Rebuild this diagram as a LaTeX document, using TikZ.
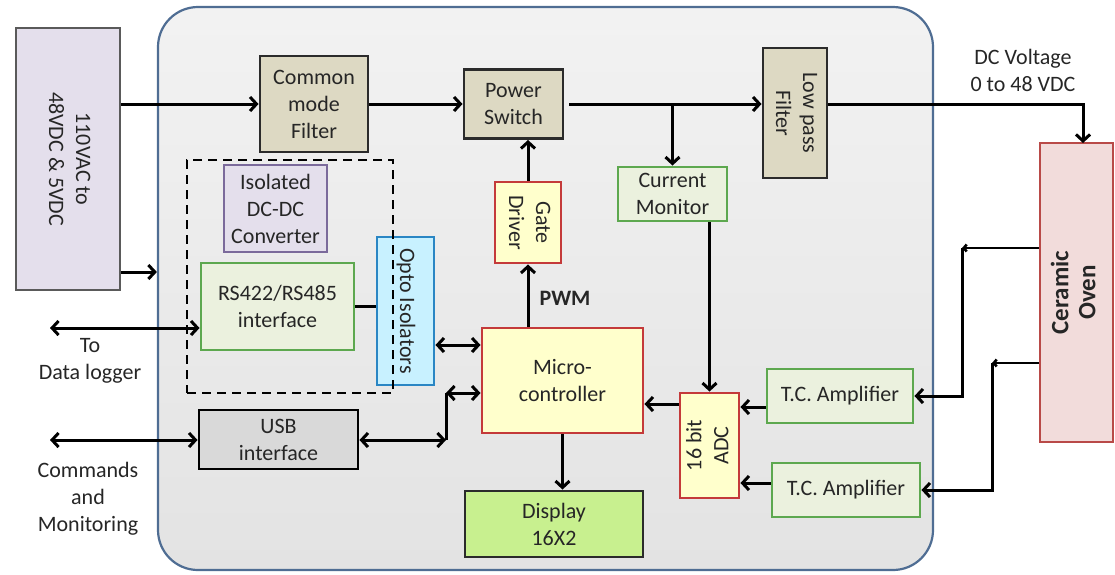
\documentclass[tikz,border=0pt]{standalone}
\usepackage{fontspec}
\setmainfont{Carlito}
\usetikzlibrary{arrows.meta,calc}
\definecolor{txt}{HTML}{262626}
\definecolor{panelb}{HTML}{4F6D93}
\definecolor{lav}{HTML}{E4DFEC}
\definecolor{srcb}{HTML}{5A5A5A}
\definecolor{dcb}{HTML}{7B6A9B}
\definecolor{tan}{HTML}{DDD9C3}
\definecolor{tanb}{HTML}{2B2B2B}
\definecolor{grf}{HTML}{EBF1DE}
\definecolor{grb}{HTML}{5DA84F}
\definecolor{yel}{HTML}{FFFFCC}
\definecolor{redb}{HTML}{C43A3A}
\definecolor{cyf}{HTML}{C8F1FF}
\definecolor{cyb}{HTML}{2A86C4}
\definecolor{usbf}{HTML}{D9D9D9}
\definecolor{dispf}{HTML}{C8F08F}
\definecolor{ovf}{HTML}{F2DCDB}
\definecolor{ovb}{HTML}{B94A48}
\newcommand{\rtext}[2]{\rotatebox{#1}{\begin{tabular}{@{}c@{}}#2\end{tabular}}}
\begin{document}
\begin{tikzpicture}[x=1pt,y=-1pt,
  every node/.style={font=\fontsize{22}{27}\selectfont, text=txt},
  box/.style={draw, line width=2.9pt, inner sep=0pt, align=center},
  tanbox/.style={box, fill=tan, draw=tanb},
  grbox/.style={box, fill=grf, draw=grb},
  ylbox/.style={box, fill=yel, draw=redb},
  conn/.style={line width=3pt, draw=black},
  small/.style={line width=2.6pt, draw=black, -{Straight Barb[length=3pt,width=7pt]}},
  >={Straight Barb[length=6.5pt,width=14pt]},
  lbl/.style={align=center, inner sep=0pt}
]
\useasboundingbox (0,0) rectangle (1115,574);
% main panel
\node[draw=panelb, line width=2.2pt, rounded corners=40pt, top color=black!5, bottom color=black!11,
  minimum width=775, minimum height=563, inner sep=0pt] (panel) at (545.5,288.5) {};

% blocks
\node[box, fill=lav, draw=srcb, minimum width=104, minimum height=262] (src) at (68,159)
  {\rtext{-90}{110VAC to\\48VDC \& 5VDC}};
\node[tanbox, minimum width=108, minimum height=96] (cmf) at (314,104) {Common\\mode\\Filter};
\node[tanbox, minimum width=99, minimum height=69] (psw) at (513.5,104) {Power\\Switch};
\node[tanbox, minimum width=64, minimum height=130] (lpf) at (795,113) {\rtext{-90}{Low pass\\Filter}};
\node[box, fill=ovf, draw=ovb, minimum width=73, minimum height=299] (oven) at (1076.5,292.5)
  {\rtext{90}{\fontsize{25}{28}\selectfont\bfseries Ceramic\\\fontsize{25}{28}\selectfont\bfseries Oven}};
\node[grbox, minimum width=109, minimum height=54] (cmon) at (672.5,194) {Current\\Monitor};
\node[ylbox, minimum width=66, minimum height=81] (gate) at (528,222.5) {\rtext{-90}{Gate\\Driver}};
\node[ylbox, minimum width=161, minimum height=105] (micro) at (562.5,380.5) {Micro-\\controller};
\node[box, fill=dispf, draw=tanb, minimum width=178, minimum height=66] (disp) at (554,524) {Display\\16X2};
\node[ylbox, minimum width=59, minimum height=105] (adc) at (709.5,445.5) {\rtext{90}{16 bit\\ADC}};
\node[grbox, minimum width=146, minimum height=54] (tc1) at (840,396) {T.C. Amplifier};
\node[grbox, minimum width=148, minimum height=54] (tc2) at (846,490) {T.C. Amplifier};
\node[box, fill=cyf, draw=cyb, minimum width=57, minimum height=148] (opto) at (405.5,311) {\rtext{-90}{Opto Isolators}};
\node[box, fill=lav, draw=dcb, minimum width=103, minimum height=87] (dcdc) at (275.5,208.5) {Isolated\\DC-DC\\Converter};
\node[grbox, minimum width=153, minimum height=87] (rs) at (277.5,306.5) {RS422/RS485\\interface};
\node[box, fill=usbf, draw=black, minimum width=159, minimum height=59] (usb) at (278.5,439.5) {USB\\interface};
\node[draw=black, line width=2.8pt, dash pattern=on 9pt off 6pt, minimum width=206, minimum height=233, inner sep=0pt] (iso) at (290,276.5) {};

% coordinates
\coordinate (ovin) at (1083,143);
\coordinate (k1) at (962,248);
\coordinate (k2) at (992,363);
\coordinate (dl) at (50,328);
\coordinate (cm) at (50,440);
\coordinate (j1) at (446,440);
\coordinate (j2) at (446,393);

% connectors
\draw[conn,->] (src.east |- cmf.west) -- (cmf.west);
\draw[conn,->] (src.east |- 0,272) -- (panel.west |- 0,272);
\draw[conn,->] (cmf.east) -- (psw.west);
\draw[conn,->, shorten <=5pt] (psw.east) -- (lpf.west |- psw.east);
\draw[conn,->] (psw.east -| cmon.north) -- (cmon.north);
\draw[conn,->] (lpf.east |- psw.east) -| (ovin);
\draw[conn,->] (gate.north) -- (gate.north |- psw.south);
\draw[conn,->] (micro.north -| gate.south) -- (gate.south);
\draw[conn,->] (adc.north |- cmon.south) -- (adc.north);
\draw[conn,->] (adc.west |- 0,404) -- (micro.east |- 0,404);
\draw[conn,->] (tc1.west |- 0,407) -- (adc.east |- 0,407);
\draw[conn,->] (tc2.west |- 0,483) -- (adc.east |- 0,483);
\draw[small] (oven.west |- k1) -- (k1);
\draw[conn,->] (k1) |- (tc1.east);
\draw[small] (oven.west |- k2) -- (k2);
\draw[conn,->] (k2) |- (tc2.east);
\draw[conn,<->] (opto.east |- 0,345) -- (micro.west |- 0,345);
\draw[conn] (rs.east) -- (rs.east -| opto.west);
\draw[conn,<->] (dl) -- (rs.west |- dl);
\draw[conn,<->] (cm) -- (usb.west |- cm);
\draw[conn,<->] (usb.east |- j1) -- (j1);
\draw[conn] (j1) -- (j2);
\draw[conn,<->] (j2) -- (micro.west |- j2);
\draw[conn,->] (micro.south) -- (micro.south |- disp.north);

% labels
\node[font=\fontsize{22}{27}\selectfont\bfseries] (pwm) at (565,298) {PWM};
\node[lbl] (dltxt) at (90,360.5) {To\\Data logger};
\node[lbl] (cmtxt) at (88,499) {Commands\\and\\Monitoring};
\node[lbl] (dctxt) at (1023,70) {DC Voltage\\0 to 48 VDC};
\end{tikzpicture}
\end{document}
